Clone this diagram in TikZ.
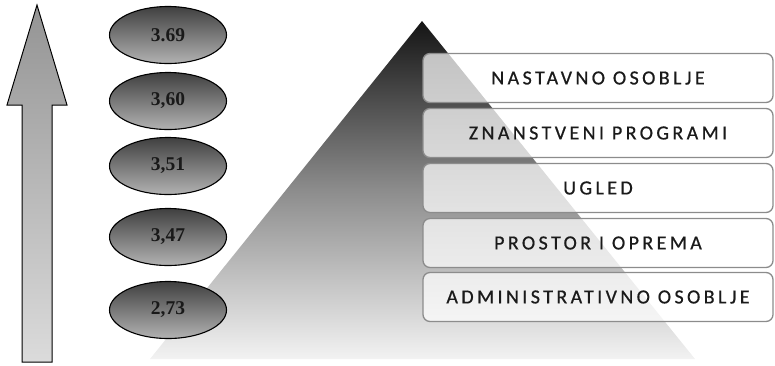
\documentclass[tikz,border=0pt]{standalone}
\usepackage{fontspec}
\setmainfont{Liberation Serif}
\newfontfamily\boxfont[LetterSpace=17,FakeBold=0.6]{Carlito}
\usetikzlibrary{shapes.geometric}
\definecolor{boxtxt}{HTML}{1A1A1A}
\tikzset{
  valnode/.style={ellipse, draw=black, line width=1.1pt, minimum width=117pt, minimum height=57pt,
    top color=black!75, bottom color=black!30, font=\bfseries\fontsize{19.5}{19.5}\selectfont, text=black!90},
  levelbox/.style={rounded corners=7pt, draw=black!45, line width=1.3pt, fill=white, fill opacity=0.72,
    text opacity=1, minimum width=350pt, minimum height=49pt, font=\boxfont\fontsize{20}{20}\selectfont, text=boxtxt}
}
\begin{document}
\begin{tikzpicture}[x=1pt,y=-1pt]
\useasboundingbox (0,0) rectangle (775,365);
% pyramid
\coordinate (apex) at (422,21);
\shade[top color=black!92, bottom color=black!5, middle color=black!45]
  (apex) -- (695,359) -- (150,359) -- cycle;
% arrow
\coordinate (tip) at (37,5);
\shade[top color=black!42, bottom color=black!14, draw=black, line width=1pt]
  (tip) -- (67,105) -- (52,105) -- (52,362) -- (22,362) -- (22,105) -- (7,105) -- cycle;
% ellipses
\node[valnode] (v1) at (168,35) {3.69};
\node[valnode] (v2) at (168,101) {3,60};
\node[valnode] (v3) at (168,166) {3,51};
\node[valnode] (v4) at (168,237) {3,47};
\node[valnode] (v5) at (168,310) {2,73};
% boxes
\node[levelbox] (b1) at (598,78) {NASTAVNO OSOBLJE};
\node[levelbox] (b2) at (598,133) {ZNANSTVENI PROGRAMI};
\node[levelbox] (b3) at (598,188) {UGLED};
\node[levelbox] (b4) at (598,243) {PROSTOR I OPREMA};
\node[levelbox] (b5) at (598,297) {ADMINISTRATIVNO OSOBLJE};
\end{tikzpicture}
\end{document}
